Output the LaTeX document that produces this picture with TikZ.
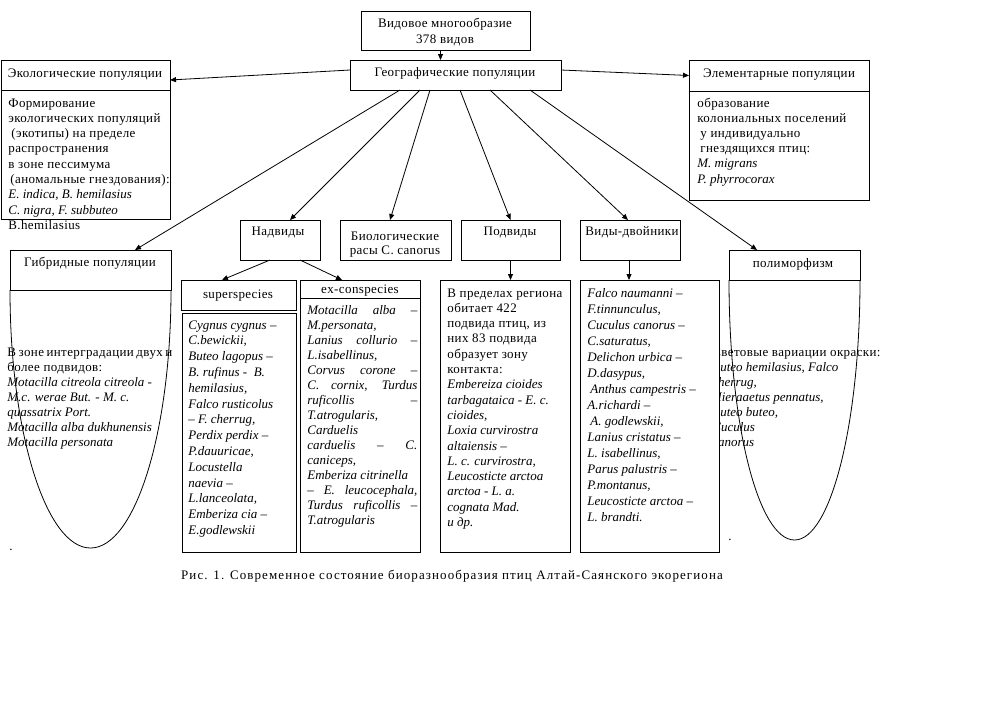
\documentclass[tikz,border=0pt]{standalone}
\usepackage{fontspec}
\setmainfont[UprightFeatures={LetterSpace=3}]{Liberation Serif}
\newfontfamily\capfont[LetterSpace=8.4]{Liberation Serif}
\usetikzlibrary{arrows.meta,calc}
\newcommand\blk[2]{\parbox[t]{260pt}{\fontsize{13}{#1}\selectfont\raggedright #2}}
\newcommand\cblk[3]{\parbox[t]{#1}{\fontsize{13}{#2}\selectfont\centering #3}}
\newcommand\jl[2]{\makebox[#1][s]{#2}}
\newcommand\bx[6][]{\node[box,#1,minimum width=#5pt-#3pt,minimum height=#6pt-#4pt] (#2) at (#3,#4) {};}
\begin{document}
\begin{tikzpicture}[x=1pt,y=-1pt,line width=0.8pt,
  font=\fontsize{13}{15}\selectfont,
  box/.style={draw,anchor=north west,inner sep=0pt,outer sep=0pt},
  arr/.style={-{Triangle[length=6pt,width=5pt]}},
  lbl/.style={inner sep=0pt,anchor=base},
  txl/.style={inner sep=0pt,anchor=base west}]
\useasboundingbox (0,0) rectangle (990,710);
% boxes
\bx{top}{361}{11}{530}{50}
\bx{geo}{350}{60}{561}{90}
\bx{ecoh}{1}{60}{170}{90}
\bx{ecob}{1}{90}{170}{219}
\bx{elemh}{689}{60}{869}{91}
\bx{elemb}{689}{91}{869}{200}
\bx{hybh}{10}{250}{171}{290}
\bx{nadv}{240}{220}{320}{260}
\bx{bio}{340}{220}{451}{260}
\bx{podv}{461}{220}{560}{260}
\bx{vdv}{580}{220}{680}{260}
\bx{polyh}{729}{250}{860}{280}
\bx{suph}{181}{280}{296}{310}
\bx{supb}{182}{313}{296}{552}
\bx{exch}{300}{280}{420}{298}
\bx{excb}{300}{298}{420}{552}
\bx{pdb}{440}{280}{570}{552}
% U shapes
\draw (hybh.south west) .. controls (10,432.5) and (46,548) .. (90.5,548)
      .. controls (135,548) and (171,432.5) .. (hybh.south east);
\draw (polyh.south west) .. controls (729,423.6) and (758.3,540) .. (794.5,540)
      .. controls (830.7,540) and (860,423.6) .. (polyh.south east);
% polymorphism text (partly hidden by the next box)
\node[txl] (tpoly) at (712,356) {\blk{15}{Световые вариации  окраски:\\
\textit{Buteo hemilasius, Falco}\\
\textit{cherrug,}\\
\textit{Hieraaetus pennatus,}\\
\textit{Buteo buteo,}\\
\textit{Cuculus}\\
\textit{canorus}}};
\bx[fill=white]{vdvb}{580}{280}{719}{552}
% header texts
\node[lbl] (ttop) at (445,27) {\cblk{160pt}{16}{Видовое многообразие\\378 видов}};
\node[lbl] (tgeo) at (455,76) {Географические популяции};
\node[lbl] (tecoh) at (85,77) {Экологические популяции};
\node[lbl] (telemh) at (779,77) {Элементарные популяции};
\node[lbl] (thybh) at (90,266) {Гибридные популяции};
\node[lbl] (tnadv) at (278,235) {Надвиды};
\node[lbl] (tbio) at (395,240) {\cblk{110pt}{14}{Биологические\\расы C. canorus}};
\node[lbl] (tpodv) at (510,235) {Подвиды};
\node[lbl] (tvdv) at (632,235) {Виды-двойники};
\node[lbl] (tpolyh) at (793,267) {полиморфизм};
\node[lbl] (tsuph) at (238,298) {superspecies};
\node[lbl] (texch) at (360,293) {ex-conspecies};
% body texts
\node[txl] (tecob) at (8,107) {\blk{15.3}{Формирование\\
экологических популяций\\
\hspace*{3pt}(экотипы) на пределе\\
распространения\\
в зоне пессимума\\
\hspace*{2pt}(аномальные гнездования):\\
\textit{E. indica, B. hemilasius}\\
\textit{C. nigra, F. subbuteo}\\
B.hemilasius}};
\node[txl] (telemb) at (697,107) {\blk{15.2}{образование\\
колониальных поселений\\
\hspace*{3pt}у индивидуально\\
\hspace*{3pt}гнездящихся птиц:\\
\textit{M. migrans}\\
\textit{P. phyrrocorax}}};
\node[txl] (thyb) at (7,356) {\blk{15}{\jl{165pt}{В зоне интерградации двух и}\\
более подвидов:\\
\textit{Motacilla citreola citreola -}\\
\textit{M.c. werae But. - M. c.}\\
\textit{quassatrix Port.}\\
\textit{Motacilla alba dukhunensis}\\
\textit{Motacilla personata}}};
\node[txl] (tsupb) at (188,329) {\blk{15.8}{\itshape Cygnus cygnus –\\
C.bewickii,\\
Buteo lagopus –\\
B. rufinus -\ \ B.\\
hemilasius,\\
Falco rusticolus\\
– F. cherrug,\\
Perdix perdix –\\
P.dauuricae,\\
Locustella\\
naevia –\\
L.lanceolata,\\
Emberiza cia –\\
E.godlewskii}};
\node[txl] (texcb) at (307,314) {\blk{15}{\itshape \jl{110pt}{Motacilla alba –}\\
M.personata,\\
\jl{110pt}{Lanius collurio –}\\
L.isabellinus,\\
\jl{110pt}{Corvus corone –}\\
\jl{110pt}{C. cornix, Turdus}\\
\jl{110pt}{ruficollis \hfill –}\\
T.atrogularis,\\
Carduelis\\
\jl{110pt}{carduelis \hfill – \hfill C.}\\
caniceps,\\
Emberiza citrinella\\
\jl{110pt}{– E. leucocephala,}\\
\jl{110pt}{Turdus ruficollis –}\\
T.atrogularis}};
\node[txl] (tpdb) at (447,297) {\blk{15.3}{В пределах региона\\
обитает 422\\
подвида птиц, из\\
них 83 подвида\\
образует зону\\
контакта:\\
\textit{Embereiza cioides}\\
\textit{tarbagataica - E. c.}\\
\textit{cioides,}\\
\textit{Loxia curvirostra}\\
\textit{altaiensis –}\\
\textit{L. c. curvirostra,}\\
\textit{Leucosticte arctoa}\\
\textit{arctoa - L. a.}\\
\textit{cognata Mad.}\\
\textit{и др.}}};
\node[txl] (tvdvb) at (587,297) {\blk{16}{\itshape Falco naumanni –\\
F.tinnunculus,\\
Cuculus canorus –\\
C.saturatus,\\
Delichon urbica –\\
D.dasypus,\\
\hspace*{3pt}Anthus campestris –\\
A.richardi –\\
\hspace*{3pt}A. godlewskii,\\
Lanius cristatus –\\
L. isabellinus,\\
Parus palustris –\\
P.montanus,\\
Leucosticte arctoa –\\
L. brandti.}};
\node[txl] (dot1) at (9,550) {.};
\node[txl] (dot2) at (728,540) {.};
\node[lbl] (cap) at (452,579) {\capfont Рис. 1. Современное состояние биоразнообразия птиц Алтай-Саянского экорегиона};
% connectors
\draw[arr] ($(top.south)+(-5,0)$) -- ($(top.south |- geo.north)+(-5,0)$);
\draw[arr] ($(geo.north west)+(0,10)$) -- ($(ecoh.north east)+(0,20)$);
\draw[arr] ($(geo.north east)+(0,10)$) -- (elemh.west);
\draw[arr] ($(geo.south west)+(50,0)$) -- ($(hybh.north west)+(125,0)$);
\draw[arr] ($(geo.south west)+(70,0)$) -- ($(nadv.north west)+(50,0)$);
\draw[arr] ($(geo.south west)+(80,0)$) -- ($(bio.north west)+(50,0)$);
\draw[arr] ($(geo.south west)+(110,0)$) -- (podv.north);
\draw[arr] ($(geo.south west)+(140,0)$) -- ($(vdv.north west)+(48,0)$);
\draw[arr] ($(geo.south west)+(180,0)$) -- ($(polyh.north west)+(28,0)$);
\draw[arr] ($(nadv.south west)+(30,0)$) -- ($(suph.north west)+(41,0)$);
\draw[arr] ($(nadv.south west)+(60,0)$) -- ($(exch.north west)+(42,0)$);
\draw[arr] (podv.south) -- (podv.south |- pdb.north);
\draw[arr] ($(vdv.south west)+(49,0)$) -- ($(vdv.south west |- vdvb.north)+(49,0)$);
\end{tikzpicture}
\end{document}
